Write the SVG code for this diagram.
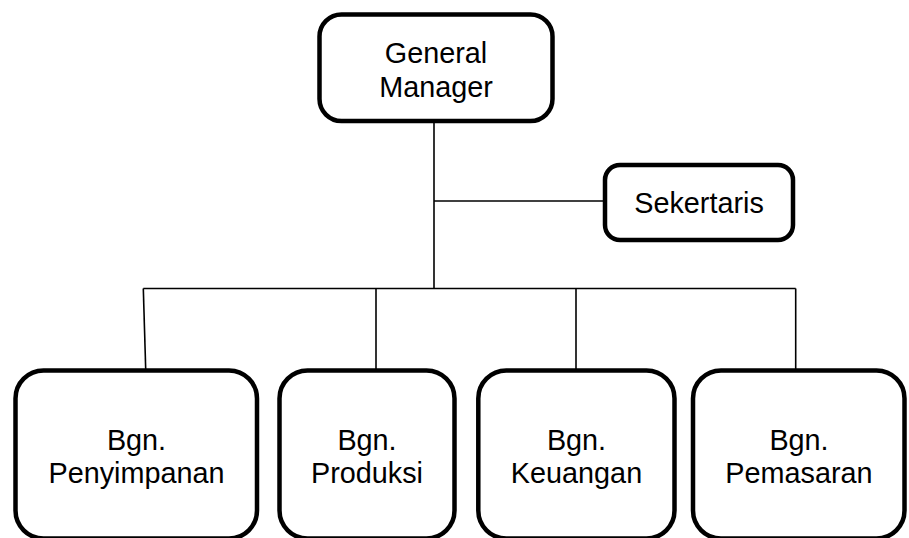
<svg xmlns="http://www.w3.org/2000/svg" width="909" height="538" viewBox="0 0 909 538">
  <style>
    .box { fill: #ffffff; stroke: #000000; stroke-width: 4.5; }
    .lbl { font-family: "Liberation Sans", Arial, sans-serif; font-size: 28.8px; fill: #000000; text-anchor: middle; }
    .wire { fill: none; stroke: #000000; stroke-width: 1.6; }
  </style>
  <rect width="909" height="538" fill="#ffffff"/>

  <g id="connectors">
    <line class="wire" x1="434" y1="121" x2="434" y2="288.5"/>
    <line class="wire" x1="434" y1="201" x2="605" y2="201"/>
    <line class="wire" x1="143.3" y1="288.5" x2="795.7" y2="288.5"/>
    <line class="wire" x1="143.3" y1="288.5" x2="145.7" y2="369"/>
    <line class="wire" x1="376" y1="288.5" x2="376" y2="369"/>
    <line class="wire" x1="576" y1="288.5" x2="576" y2="369"/>
    <line class="wire" x1="795.7" y1="288.5" x2="795.7" y2="369"/>
  </g>

  <g id="general-manager">
    <rect class="box" x="319.5" y="14.5" width="233" height="106.5" rx="22"/>
    <text class="lbl" x="436" y="63.3">General</text>
    <text class="lbl" x="436" y="96.7">Manager</text>
  </g>

  <g id="sekertaris">
    <rect class="box" x="605" y="165" width="188" height="75" rx="15"/>
    <text class="lbl" x="699" y="213">Sekertaris</text>
  </g>

  <g id="penyimpanan">
    <rect class="box" x="15.5" y="370.5" width="241.5" height="168" rx="28"/>
    <text class="lbl" x="136.5" y="449.5">Bgn.</text>
    <text class="lbl" x="136.5" y="483.3">Penyimpanan</text>
  </g>

  <g id="produksi">
    <rect class="box" x="279.5" y="370.5" width="175" height="168" rx="28"/>
    <text class="lbl" x="367" y="449.5">Bgn.</text>
    <text class="lbl" x="367" y="483.3">Produksi</text>
  </g>

  <g id="keuangan">
    <rect class="box" x="478.3" y="370.5" width="196.2" height="168" rx="28"/>
    <text class="lbl" x="576.5" y="449.5">Bgn.</text>
    <text class="lbl" x="576.5" y="483.3">Keuangan</text>
  </g>

  <g id="pemasaran">
    <rect class="box" x="693" y="370.5" width="211.5" height="168" rx="28"/>
    <text class="lbl" x="799" y="449.5">Bgn.</text>
    <text class="lbl" x="799" y="483.3">Pemasaran</text>
  </g>
</svg>
